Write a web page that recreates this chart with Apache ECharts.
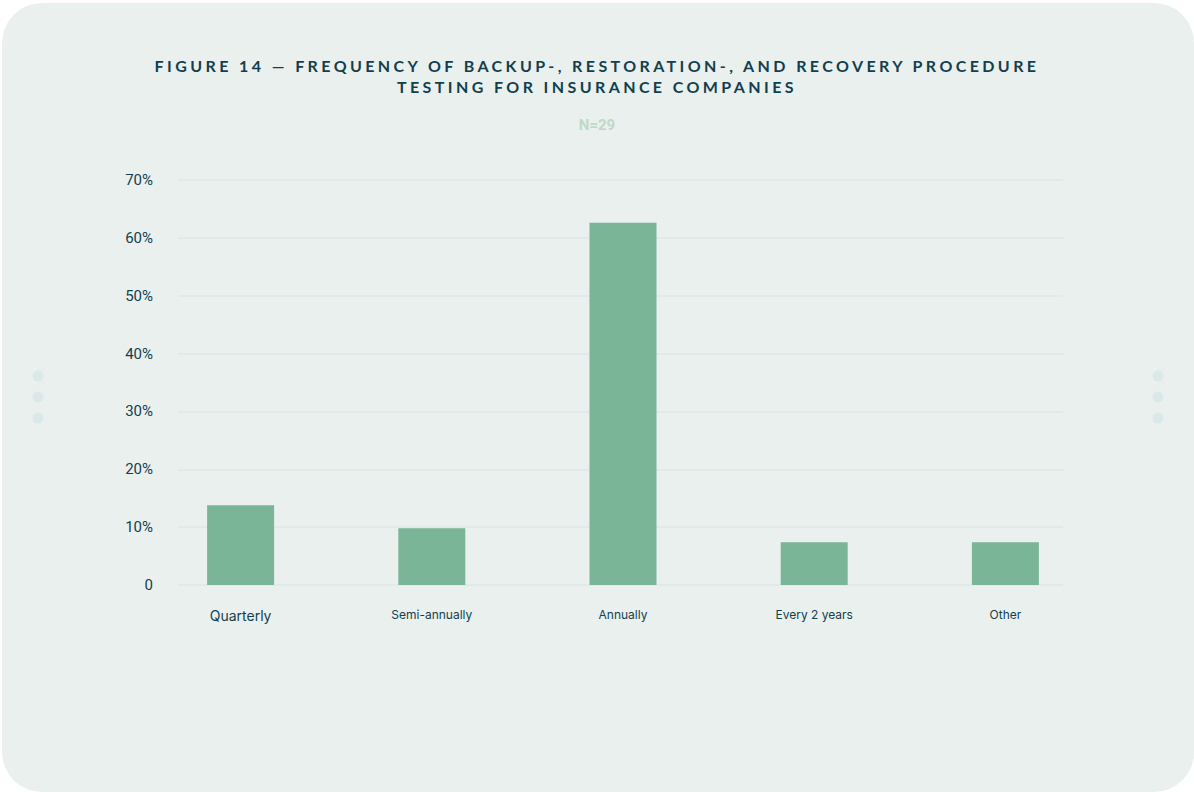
<!DOCTYPE html>
<html>
<head>
<meta charset="utf-8">
<script src="https://cdn.jsdelivr.net/npm/echarts@6/dist/echarts.min.js"></script>
<style>
  html, body { margin: 0; padding: 0; background: #ffffff; }
  #chart { width: 1194px; height: 792px; }
  /* widen the tracking of the heading, which is the only text set in Lato */
  #chart text[style*="Lato"], #chart text[font-family*="Lato"] { letter-spacing: 3.4px; }
</style>
</head>
<body>
<div id="chart"></div>
<script>
// Share of insurers by how often they test backup / restoration / recovery procedures
const categories = ['Quarterly', 'Semi-annually', 'Annually', 'Every 2 years', 'Other'];
const shares = [13.8, 9.8, 62.6, 7.4, 7.4];
const titleLines = [
  'FIGURE 14 \u2014 FREQUENCY OF BACKUP-, RESTORATION-, AND RECOVERY PROCEDURE',
  'TESTING FOR INSURANCE COMPANIES'
];
const sampleLabel = 'N=29';
const axisMin = 0, axisMax = 70, axisStep = 10;

const ink = '#123f4e';
const barColor = '#7bb598';
const gridColor = '#dde9e9';

const chart = echarts.init(document.getElementById('chart'), null, { renderer: 'svg' });

const dots = [];
[38, 1158].forEach(function (cx) {
  [376, 397, 418].forEach(function (cy) {
    dots.push({ type: 'circle', shape: { cx: cx, cy: cy, r: 5.5 }, style: { fill: '#dbe8e8' }, z: -9 });
  });
});

chart.setOption({
  animation: false,
  backgroundColor: '#ffffff',
  graphic: [
    { type: 'rect', shape: { x: 2, y: 3, width: 1192, height: 789, r: 40 }, style: { fill: '#eaf0ee' }, z: -10 }
  ].concat(dots),
  title: [
    {
      text: titleLines.join('\n'),
      left: 'center', top: 50,
      textStyle: { fontFamily: 'Lato', fontWeight: 'bold', fontSize: 16, color: ink, lineHeight: 21 }
    },
    {
      text: sampleLabel,
      left: 'center', top: 112,
      textStyle: { fontFamily: 'Roboto', fontWeight: 'bold', fontSize: 15, color: '#bcdac9' }
    }
  ],
  grid: [
    // value grid: carries the gridlines and percentage labels
    { left: 178, right: 131, top: 180, bottom: 207 },
    // bar grid: wider band so the five categories spread across the card
    { left: 145, right: 93, top: 180, bottom: 207 }
  ],
  xAxis: [
    { gridIndex: 0, type: 'category', data: categories, show: false },
    {
      gridIndex: 1, type: 'category',
      data: categories.map(function (c, i) {
        return i === 0 ? { value: c, textStyle: { fontSize: 14 } } : c;
      }),
      axisLine: { show: false }, axisTick: { show: false },
      axisLabel: { fontFamily: 'Inter', fontSize: 12, color: ink, margin: 23 }
    }
  ],
  yAxis: [
    {
      gridIndex: 0, type: 'value', min: axisMin, max: axisMax, interval: axisStep,
      axisLine: { show: false }, axisTick: { show: false },
      splitLine: { lineStyle: { color: gridColor, width: 1.5 } },
      axisLabel: {
        fontFamily: 'Roboto', fontSize: 15, color: ink, margin: 25,
        formatter: function (v) { return v === 0 ? '0' : v + '%'; }
      }
    },
    {
      gridIndex: 1, type: 'value', min: axisMin, max: axisMax, interval: axisStep, show: false
    }
  ],
  series: [
    {
      type: 'bar', xAxisIndex: 1, yAxisIndex: 1,
      data: shares, barWidth: 67,
      itemStyle: { color: barColor }
    }
  ]
});
</script>
</body>
</html>
